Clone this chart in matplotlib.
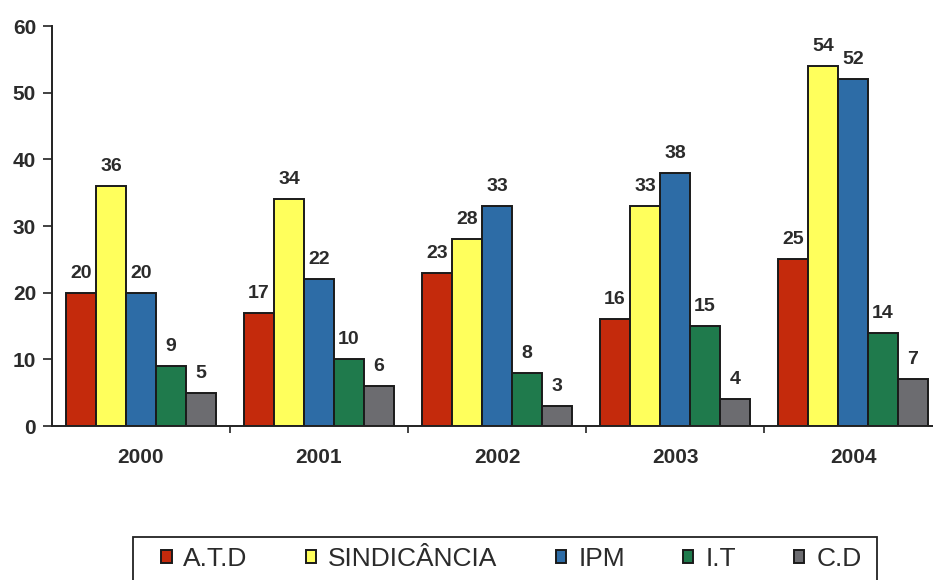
import numpy as np
import matplotlib.pyplot as plt
from matplotlib.patches import Rectangle

plt.rcParams['font.family'] = ['Liberation Sans', 'DejaVu Sans']

anos = ['2000', '2001', '2002', '2003', '2004']
series = ['A.T.D', 'SINDICÂNCIA', 'IPM', 'I.T', 'C.D']
atd = [20, 17, 23, 16, 25]
sindicancia = [36, 34, 28, 33, 54]
ipm = [20, 22, 33, 38, 52]
it = [9, 10, 8, 15, 14]
cd = [5, 6, 3, 4, 7]
cores = ['#c42a0c', '#ffff5c', '#2d6ca6', '#1f7a4c', '#6c6c70']

valores = [atd, sindicancia, ipm, it, cd]

fig = plt.figure(figsize=(9.33, 5.8), dpi=100)
ax = fig.add_axes([52 / 933, 154 / 580, 890 / 933, 400 / 580])

x = np.arange(len(anos))
w = 0.1685
texto = '#2b2b2b'
for i, (nome, vals, cor) in enumerate(zip(series, valores, cores)):
    pos = x + (i - 2) * w
    ax.bar(pos, vals, width=w, color=cor, edgecolor='#1a1a1a', linewidth=1.4,
           label=nome, zorder=2)
    for px, v in zip(pos, vals):
        ax.annotate(str(v), (px, v), xytext=(0, 8), textcoords='offset points',
                    ha='center', va='bottom', fontsize=14, fontweight='bold',
                    color=texto, annotation_clip=False)

ax.set_xlim(-0.5, 4.5)
ax.set_ylim(0, 60)
ax.set_yticks(range(0, 61, 10))

# ticks entre os grupos, rótulos dos anos no centro
ax.set_xticks(np.arange(0.5, 5, 1))
ax.set_xticklabels([])
ax.set_xticks(x, minor=True)
ax.set_xticklabels(anos, minor=True)
ax.tick_params(axis='x', which='major', length=5, width=1.2, direction='out', color='#222')
ax.tick_params(axis='x', which='minor', length=0, pad=16, labelsize=15, labelcolor=texto)
ax.tick_params(axis='y', length=6.5, width=1.2, color='#222', labelsize=15,
               labelcolor=texto, pad=5)
for lab in ax.get_xticklabels(minor=True) + ax.get_yticklabels():
    lab.set_fontweight('bold')

for s in ['top', 'right']:
    ax.spines[s].set_visible(False)
for s in ['left', 'bottom']:
    ax.spines[s].set_linewidth(1.4)
    ax.spines[s].set_color('#222')

# moldura da legenda (continua abaixo da borda da figura)
fig.patches.append(Rectangle((133 / 933, -0.05), (877 - 133) / 933, 0.05 + 43 / 580,
                             transform=fig.transFigure, fill=False,
                             edgecolor='#222', linewidth=1.3))
leg = fig.legend(loc='upper left', bbox_to_anchor=(161 / 933, 1 - 547 / 580),
                 ncol=5, frameon=False, fontsize=19, borderpad=0, borderaxespad=0,
                 handlelength=0.4, handleheight=0.4, handletextpad=0.45,
                 columnspacing=2.2, labelcolor=texto)

fig.savefig('out.png', dpi=100)
